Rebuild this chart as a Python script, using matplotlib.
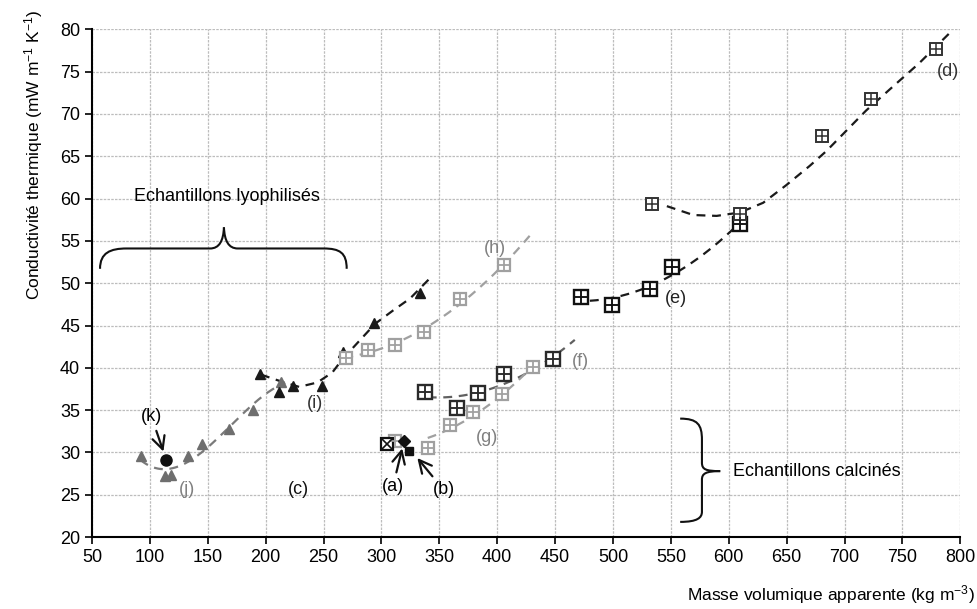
import numpy as np
import matplotlib
matplotlib.use("Agg")
import matplotlib.pyplot as plt
from matplotlib.path import Path
from matplotlib.patches import PathPatch

plt.rcParams['font.family'] = ['Liberation Sans', 'DejaVu Sans']
plt.rcParams['mathtext.fontset'] = 'custom'
plt.rcParams['mathtext.rm'] = 'Liberation Sans'
plt.rcParams['mathtext.it'] = 'Liberation Sans:italic'

# --- data ---
# (c)/(j) gray triangles
cj_x = [92, 113, 118, 133, 145, 168, 189, 213.5]
cj_y = [29.6, 27.2, 27.3, 29.6, 31.0, 32.8, 35.0, 38.3]
# (i) black triangles
i_x = [195.4, 211.2, 224, 249, 267, 293.5, 333.4]
i_y = [39.3, 37.1, 37.9, 37.8, 41.9, 45.3, 48.8]
# (i) dashed trend line
i_trend_x = [196, 211.7, 228.9, 244.7, 257.6, 266.2, 294.5, 310.3, 324.8, 342]
i_trend_y = [39.2, 38.47, 37.75, 38.27, 39.45, 41.0, 45.2, 46.8, 48.2, 50.6]
# (h) light gray squares
h_x = [269, 288.7, 311.8, 337, 368, 406]
h_y = [41.2, 42.05, 42.7, 44.25, 48.1, 52.1]
# (f) dark squares
f_x = [337.8, 365.7, 383.8, 406, 448.6]
f_y = [37.2, 35.2, 37.05, 39.3, 41.0]
# (g) light gray squares
g_x = [311.8, 340.6, 358.8, 379.5, 404, 431.3]
g_y = [31.3, 30.5, 33.2, 34.8, 36.9, 40.1]
# (e) black squares
e_x = [472.6, 498.7, 532.2, 551.3, 609.6]
e_y = [48.4, 47.4, 49.3, 51.9, 56.96]
# (d) black squares
d_x = [533.6, 609.6, 680.7, 722.9, 778.8]
d_y = [59.33, 58.15, 67.4, 71.73, 77.64]
# (d) dashed trend line
d_trend_x = [546.5, 569.4, 589.5, 609.6, 629.7, 649.8, 669.8, 684.2, 701.4,
             718.6, 741.5, 764.5, 791.8]
d_trend_y = [59.1, 58.05, 57.95, 58.35, 59.5, 61.6, 63.85, 65.6, 68.0,
             70.4, 73.2, 76.0, 79.7]
# single points
k_pt = (114, 29.1)
a_pt = (319.6, 31.3)
b_pt = (324.2, 30.2)
x_box_pt = (304.6, 31.0)

# trendlines: data, polynomial order, x range, colour
trends = {
    'cj': (cj_x, cj_y, 3, 92, 217, '#7a7a7a'),
    'h': (h_x, h_y, 2, 268, 428, '#a0a0a0'),
    'f': (f_x, f_y, 2, 340, 467, '#606060'),
    'g': (g_x, g_y, 2, 340, 432, '#a0a0a0'),
    'e': (e_x, e_y, 2, 480, 615, '#1a1a1a'),
}
dash = (0, (4, 3))

fig = plt.figure(figsize=(9.78, 6.09), dpi=100)
ax = fig.add_axes([0.094, 0.118, 0.888, 0.834])

ax.set_xlim(50, 800)
ax.set_ylim(20, 80)
ax.set_xticks(np.arange(50, 801, 50))
ax.set_yticks(np.arange(20, 81, 5))
ax.grid(True, color='#bdbdbd', linestyle=(0, (2, 1)), linewidth=0.9)
ax.set_axisbelow(True)
for s in ['top', 'right']:
    ax.spines[s].set_visible(False)
for s in ['left', 'bottom']:
    ax.spines[s].set_linewidth(1.5)
ax.tick_params(direction='out', length=5, width=1.2, labelsize=13)

for key, (xs, ys, deg, x0, x1, col) in trends.items():
    coef = np.polyfit(xs, ys, deg)
    xx = np.linspace(x0, x1, 200)
    ax.plot(xx, np.polyval(coef, xx), color=col, lw=1.6, linestyle=dash,
            zorder=2)
ax.plot(d_trend_x, d_trend_y, color='#1a1a1a', lw=1.6, linestyle=dash,
        zorder=2)
ax.plot(i_trend_x, i_trend_y, color='#1a1a1a', lw=1.6, linestyle=dash,
        zorder=2)


def grid_square(xs, ys, color, ms, mew):
    ax.plot(xs, ys, 's', ms=ms, mfc='white', mec=color, mew=mew, zorder=3)
    ax.plot(xs, ys, '+', ms=ms, mec=color, mew=mew * 0.8, zorder=4)


ax.plot(cj_x, cj_y, '^', ms=7, color='#6e6e6e', zorder=3)
ax.plot(i_x, i_y, '^', ms=7, color='#1a1a1a', zorder=3)
grid_square(h_x, h_y, '#a0a0a0', 9, 1.6)
grid_square(g_x, g_y, '#a0a0a0', 9, 1.6)
grid_square(f_x, f_y, '#2a2a2a', 10, 1.7)
grid_square(e_x, e_y, '#111111', 10, 1.7)
grid_square(d_x, d_y, '#333333', 8, 1.4)

ax.plot(*x_box_pt, 's', ms=9, mfc='white', mec='#111111', mew=1.6, zorder=3)
ax.plot(*x_box_pt, 'x', ms=8, mec='#111111', mew=1.2, zorder=4)
ax.plot(*a_pt, 'D', ms=6, color='#111111', zorder=5)
ax.plot(*b_pt, 's', ms=6, color='#111111', zorder=5)
ax.plot(*k_pt, 'o', ms=8, color='#111111', zorder=5)

# labels
txt = dict(fontsize=13, ha='center', va='center')
ax.text(788.9, 75.0, '(d)', color='#333333', **txt)
ax.text(554, 48.2, '(e)', color='#222222', **txt)
ax.text(472, 40.8, '(f)', color='#808080', **txt)
ax.text(391.5, 31.8, '(g)', color='#808080', **txt)
ax.text(398.2, 54.1, '(h)', color='#808080', **txt)
ax.text(242.7, 35.8, '(i)', color='#333333', **txt)
ax.text(131.8, 25.6, '(j)', color='#808080', **txt)
ax.text(228.3, 25.6, '(c)', color='#111111', **txt)

arrow = dict(arrowstyle='->,head_length=0.7,head_width=0.35', lw=1.6, color='#111111')
ax.annotate('(k)', xy=(112.5, 29.8), xytext=(101.5, 34.2), fontsize=13,
            ha='center', va='center', arrowprops=arrow)
ax.annotate('(a)', xy=(318.5, 30.8), xytext=(310, 26.0), fontsize=13,
            ha='center', va='center', arrowprops=arrow)
ax.annotate('(b)', xy=(329.5, 29.6), xytext=(353.6, 25.6), fontsize=13,
            ha='center', va='center', arrowprops=arrow)

# braces
def brace(pts):
    codes = [Path.MOVETO] + [Path.CURVE4] * (len(pts) - 1)
    ax.add_patch(PathPatch(Path(pts, codes), fc='none', ec='#111111', lw=1.5,
                           zorder=5))

# horizontal brace (lyophilises), tip up
brace([(57, 51.7), (57, 53.6), (66, 54.1), (80, 54.1),
       (110, 54.1), (140, 54.1), (152, 54.1),
       (160, 54.1), (163.5, 55), (164, 56.6)])
brace([(164, 56.6), (164.5, 55), (168, 54.1), (176, 54.1),
       (200, 54.1), (230, 54.1), (250, 54.1),
       (264, 54.1), (270, 53.6), (270, 51.7)])
# vertical brace (calcines), tip right
brace([(558, 34.0), (573, 34.0), (576.8, 33.3), (576.8, 31.5),
       (576.8, 30.5), (576.8, 29.5), (576.8, 28.8),
       (576.8, 28.0), (580, 27.8), (592.6, 27.8)])
brace([(592.6, 27.8), (580, 27.8), (576.8, 27.5), (576.8, 26.8),
       (576.8, 25.5), (576.8, 24.5), (576.8, 23.0),
       (576.8, 22.3), (573, 21.8), (558, 21.8)])

ax.text(166.4, 60.2, 'Echantillons lyophilisés', fontsize=13,
        ha='center', va='center')
ax.text(604, 27.7, 'Echantillons calcinés', fontsize=13,
        ha='left', va='center')

ax.set_xlabel(r'Masse volumique apparente (kg m$^{\mathregular{-3}}$)',
              fontsize=12.5, loc='right')
ax.xaxis.set_label_coords(1.017, -0.09)
ax.set_ylabel(r'Conductivité thermique (mW m$^{\mathregular{-1}}$ K$^{\mathregular{-1}}$)',
              fontsize=12.5, loc='top')
ax.yaxis.set_label_coords(-0.054, 1.04)

fig.savefig('out.png', dpi=100)
